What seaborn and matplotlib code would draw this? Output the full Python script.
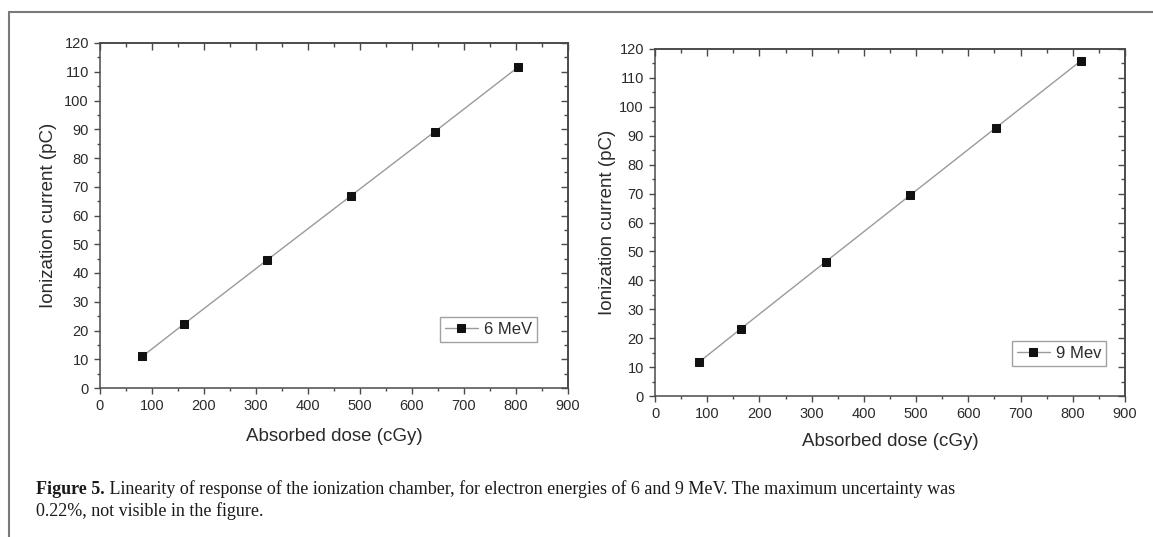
import matplotlib
matplotlib.use('Agg')
import matplotlib.pyplot as plt
import pandas as pd
import seaborn as sns
from matplotlib.lines import Line2D
from matplotlib.ticker import MultipleLocator

# dados
dose_6mev = [81.5, 161, 322, 483, 644, 804]
carga_6mev = [11.0, 22.2, 44.6, 66.9, 89.2, 111.6]
dose_9mev = [83.5, 164.7, 326.6, 489, 653, 816]
carga_9mev = [11.6, 23.3, 46.4, 69.5, 92.8, 116.0]
rotulos = ['6 MeV', '9 Mev']

sns.set_theme(style='white')
plt.rcParams['font.family'] = ['Liberation Sans', 'DejaVu Sans']

cor_eixo = '#4a4a4a'
cor_texto = '#2b2b2b'

fig = plt.figure(figsize=(11.53, 5.37), dpi=100)
W, H = 1153, 537

# posicoes dos eixos em pixels (x0, topo, x1, base)
caixas = [(100, 43, 568, 388), (655, 49, 1125, 396)]
legenda_pos = [(0.934, 0.133), (0.960, 0.086)]
xlabel_y = [-0.142, -0.130]
ylabel_x = [-0.111, -0.102]

dados = [(dose_6mev, carga_6mev), (dose_9mev, carga_9mev)]

for i, (dose, carga) in enumerate(dados):
    x0, topo, x1, base = caixas[i]
    ax = fig.add_axes([x0 / W, 1 - base / H, (x1 - x0) / W, (base - topo) / H])
    df = pd.DataFrame({'Dose': dose, 'Carga': carga})
    sns.lineplot(data=df, x='Dose', y='Carga', ax=ax, color='#9a9a9a', linewidth=1.0,
                 marker='s', markersize=6.3, markerfacecolor='#111111',
                 markeredgecolor='#111111', label=rotulos[i])
    ax.set_xlim(0, 900)
    ax.set_ylim(0, 120)
    ax.xaxis.set_major_locator(MultipleLocator(100))
    ax.xaxis.set_minor_locator(MultipleLocator(50))
    ax.yaxis.set_major_locator(MultipleLocator(10))
    ax.yaxis.set_minor_locator(MultipleLocator(5))
    ax.tick_params(which='both', direction='out', color=cor_eixo, width=1.0,
                   labelsize=10.5, labelcolor=cor_texto, pad=3.5, bottom=True, left=True)
    ax.tick_params(which='major', length=4.5)
    ax.tick_params(which='minor', length=2.5)
    for sp in ax.spines.values():
        sp.set_color(cor_eixo)
        sp.set_linewidth(1.1)

    # ticks espelhados (para dentro) no topo e na direita
    topo_ax = ax.secondary_xaxis('top')
    dir_ax = ax.secondary_yaxis('right')
    for sec in (topo_ax, dir_ax):
        sec.tick_params(which='both', direction='in', color=cor_eixo, width=1.0,
                        labeltop=False, labelright=False)
        sec.tick_params(which='major', length=5)
        sec.tick_params(which='minor', length=3)
    topo_ax.xaxis.set_major_locator(MultipleLocator(100))
    topo_ax.xaxis.set_minor_locator(MultipleLocator(50))
    topo_ax.set_xticklabels([])
    dir_ax.yaxis.set_major_locator(MultipleLocator(10))
    dir_ax.yaxis.set_minor_locator(MultipleLocator(5))
    dir_ax.set_yticklabels([])
    topo_ax.spines['top'].set_color(cor_eixo)
    dir_ax.spines['right'].set_color(cor_eixo)

    ax.set_xlabel('Absorbed dose (cGy)', fontsize=13.5, color=cor_texto)
    ax.set_ylabel('Ionization current (pC)', fontsize=13.5, color=cor_texto)
    ax.xaxis.set_label_coords(0.5, xlabel_y[i])
    ax.xaxis.label.set_verticalalignment('center')
    ax.yaxis.set_label_coords(ylabel_x[i], 0.5)
    ax.yaxis.label.set_verticalalignment('center')

    leg = ax.legend(loc='lower right', bbox_to_anchor=legenda_pos[i], borderaxespad=0,
                    fontsize=12, frameon=True, fancybox=False, handlelength=2.0,
                    handletextpad=0.35, borderpad=0.3)
    leg.get_frame().set_edgecolor('#8a8a8a')
    leg.get_frame().set_linewidth(1.0)
    for t in leg.get_texts():
        t.set_color(cor_texto)

# moldura da pagina
fig.add_artist(Line2D([9 / W, 1], [1 - 12 / H, 1 - 12 / H], transform=fig.transFigure,
                      color='#7a7a7a', linewidth=1.5))
fig.add_artist(Line2D([9 / W, 9 / W], [0, 1 - 12 / H], transform=fig.transFigure,
                      color='#7a7a7a', linewidth=1.5))

# legenda da figura
fonte = ['Liberation Serif', 'DejaVu Serif']
tam = 13
linha1 = ' Linearity of response of the ionization chamber, for electron energies of 6 and 9 MeV. The maximum uncertainty was'
linha2 = '0.22%, not visible in the figure.'
renderer = fig.canvas.get_renderer()
t_neg = fig.text(36 / W, 1 - 494 / H, 'Figure 5.', fontsize=tam, fontweight='bold',
                 family=fonte, color='#1a1a1a', va='baseline')
bb = t_neg.get_window_extent(renderer)
fig.text(bb.x1 / W, 1 - 494 / H, linha1, fontsize=tam, family=fonte,
         color='#1a1a1a', va='baseline')
fig.text(36 / W, 1 - 516 / H, linha2, fontsize=tam, family=fonte, color='#1a1a1a',
         va='baseline')

plt.savefig('out.png', dpi=100)
